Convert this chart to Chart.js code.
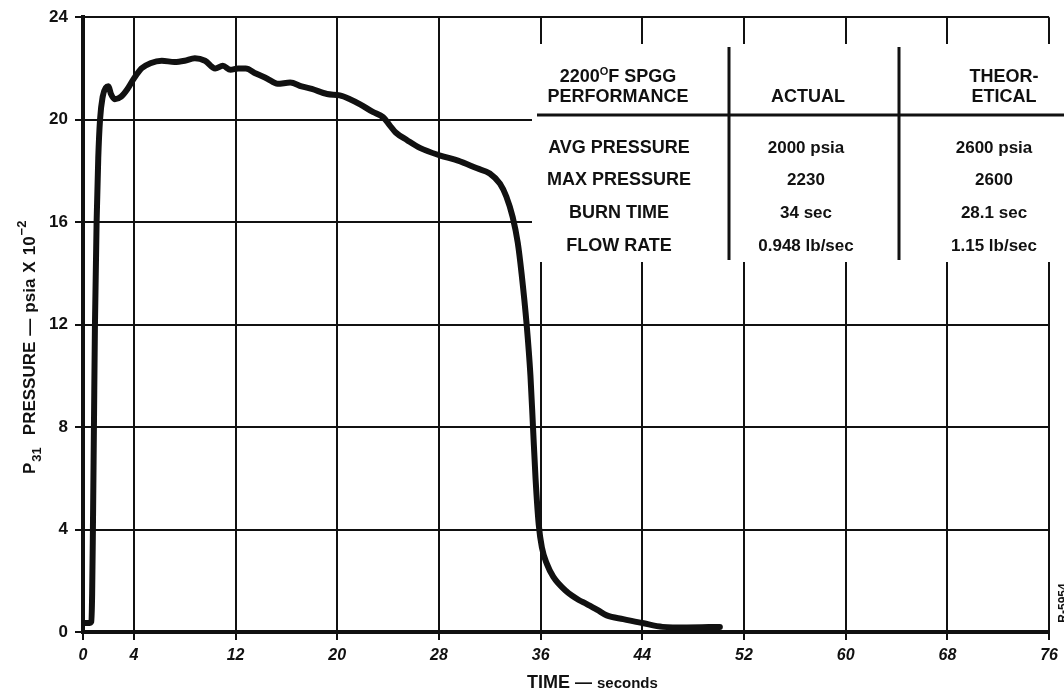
<!DOCTYPE html>
<html>
<head>
<meta charset="utf-8">
<script src="https://cdn.jsdelivr.net/npm/chart.js@4.4.1/dist/chart.umd.min.js"></script>
<style>
    html, body { margin: 0; padding: 0; background: #fff; }
    #wrap { width: 1064px; height: 695px; position: relative; }
</style>
</head>
<body>
<div id="wrap"><canvas id="pressure-chart"></canvas></div>
<script>
// P31 chamber pressure trace (psia x 10^-2) against time (s)
const timeSec = [0, 0.5, 0.65, 0.72, 0.78, 0.86, 0.94, 1.07, 1.2, 1.34, 1.55, 1.8, 2.0, 2.2, 2.5, 3.0, 3.5, 4.0, 4.6, 5.3,
    6.2, 7.2, 8.0, 8.8, 9.6, 10.4, 11.0, 11.6, 12.2, 12.8, 13.6, 14.5, 15.3, 16.3, 17.2, 18.0, 19.2, 20.2, 21.0, 21.8,
    22.8, 23.6, 24.1, 24.6, 25.5, 26.5, 28.1, 29.5, 31.0, 32.0, 32.8, 33.3, 33.8, 34.2, 34.5, 34.9, 35.2, 35.4, 35.6,
    35.85, 36.1, 36.5, 37.0, 38.0, 39.0, 39.6, 40.5, 41.2, 42.5, 44.0, 45.6, 47.5, 50.1];
const pressure = [0.35, 0.35, 0.4, 1.5, 4, 8, 12, 16, 18.5, 20, 20.9, 21.25, 21.3, 21.0, 20.8, 20.9, 21.2, 21.6, 22.0, 22.2,
    22.3, 22.25, 22.3, 22.4, 22.3, 22.0, 22.1, 21.95, 22.0, 22.0, 21.8, 21.6, 21.4, 21.45, 21.3, 21.2, 21.0, 20.95, 20.8, 20.6,
    20.3, 20.1, 19.8, 19.5, 19.2, 18.9, 18.6, 18.4, 18.1, 17.9, 17.5, 17.0, 16.2, 15.2, 14.0, 12.0, 10.0, 8.0, 6.0,
    4.2, 3.3, 2.65, 2.15, 1.6, 1.25, 1.1, 0.85, 0.65, 0.5, 0.35, 0.2, 0.18, 0.2];

const xTicks = [0, 4, 12, 20, 28, 36, 44, 52, 60, 68, 76];
const yTicks = [0, 4, 8, 12, 16, 20, 24];

// performance table
const headLeft = ['2200', 'PERFORMANCE'];
const headActual = 'ACTUAL';
const headTheo = ['THEOR-', 'ETICAL'];
const rowLabels = ['AVG PRESSURE', 'MAX PRESSURE', 'BURN TIME', 'FLOW RATE'];
const actualVals = ['2000 psia', '2230', '34 sec', '0.948 lb/sec'];
const theoVals = ['2600 psia', '2600', '28.1 sec', '1.15 lb/sec'];

const FAM = '"Liberation Sans", Arial, sans-serif';
const INK = '#111';

// draws a run of text pieces [{t, font, dy}] starting at x (or centred on x)
function drawRun(ctx, parts, x, y, center) {
    let w = 0;
    parts.forEach(p => { ctx.font = p.font; w += ctx.measureText(p.t).width + (p.gap || 0); });
    let cx = center ? x - w / 2 : x;
    parts.forEach(p => {
        ctx.font = p.font;
        ctx.fillText(p.t, cx, y + (p.dy || 0));
        cx += ctx.measureText(p.t).width + (p.gap || 0);
    });
}

const decorations = {
    id: 'decorations',
    beforeDatasetsDraw(chart) {
        const ctx = chart.ctx;
        ctx.save();
        ctx.fillStyle = '#fff';
        ctx.fillRect(532, 44, 540, 218);
        ctx.restore();
    },
    afterDraw(chart) {
        const ctx = chart.ctx;
        ctx.save();
        ctx.fillStyle = INK;
        ctx.strokeStyle = INK;
        ctx.textBaseline = 'alphabetic';
        ctx.textAlign = 'left';

        // table rules
        ctx.lineWidth = 3;
        ctx.beginPath();
        ctx.moveTo(537, 115); ctx.lineTo(1064, 115);
        ctx.moveTo(729, 47); ctx.lineTo(729, 260);
        ctx.moveTo(899, 47); ctx.lineTo(899, 260);
        ctx.stroke();

        const bold18 = 'bold 18px ' + FAM;
        const bold17 = 'bold 17px ' + FAM;
        const bold11 = 'bold 11px ' + FAM;

        // header
        drawRun(ctx, [
            { t: headLeft[0], font: bold18 },
            { t: 'O', font: bold11, dy: -7 },
            { t: 'F SPGG', font: bold18 }
        ], 618, 82, true);
        ctx.textAlign = 'center';
        ctx.font = bold18;
        ctx.fillText(headLeft[1], 618, 102);
        ctx.fillText(headActual, 808, 102);
        ctx.fillText(headTheo[0], 1004, 82);
        ctx.fillText(headTheo[1], 1004, 102);

        // rows
        const rowY = [153, 185, 218, 251];
        rowLabels.forEach((lbl, i) => {
            ctx.font = bold18;
            ctx.fillText(lbl, 619, rowY[i]);
            ctx.font = bold17;
            ctx.fillText(actualVals[i], 806, rowY[i]);
            ctx.fillText(theoVals[i], 994, rowY[i]);
        });

        // x axis title
        ctx.textAlign = 'left';
        drawRun(ctx, [
            { t: 'TIME', font: bold18, gap: 5 },
            { t: '\u2014', font: bold17, gap: 5 },
            { t: 'seconds', font: 'bold 15px ' + FAM }
        ], 527, 688, false);

        // y axis title, rotated
        ctx.save();
        ctx.translate(35, 474);
        ctx.rotate(-Math.PI / 2);
        drawRun(ctx, [
            { t: 'P', font: bold17, gap: 1 },
            { t: '31', font: 'bold 13px ' + FAM, dy: 6, gap: 12 },
            { t: 'PRESSURE', font: bold17, gap: 6 },
            { t: '\u2014', font: bold17, gap: 6 },
            { t: 'psia', font: bold17, gap: 6 },
            { t: 'X', font: bold17, gap: 6 },
            { t: '10', font: bold17, gap: 1 },
            { t: '\u22122', font: 'bold 13px ' + FAM, dy: -9 }
        ], 0, 0, false);
        ctx.restore();

        // drawing number at the right edge
        ctx.save();
        ctx.translate(1067, 603);
        ctx.rotate(-Math.PI / 2);
        ctx.textAlign = 'center';
        ctx.font = 'bold 12px ' + FAM;
        ctx.fillText('R-5954', 0, 0);
        ctx.restore();

        ctx.restore();
    }
};

const points = timeSec.map((t, i) => ({ x: t, y: pressure[i] }));

new Chart(document.getElementById('pressure-chart').getContext('2d'), {
    type: 'line',
    data: {
        datasets: [{
            data: points,
            borderColor: INK,
            borderWidth: 6,
            fill: false,
            tension: 0.4,
            cubicInterpolationMode: 'monotone',
            pointRadius: 0,
            borderCapStyle: 'round',
            borderJoinStyle: 'round'
        }]
    },
    options: {
        responsive: true,
        maintainAspectRatio: false,
        animation: false,
        devicePixelRatio: 1,
        layout: { padding: { top: 16, right: 14, left: 0, bottom: 0 } },
        plugins: {
            legend: { display: false },
            tooltip: { enabled: false }
        },
        scales: {
            x: {
                type: 'linear',
                min: 0,
                max: 76,
                afterBuildTicks: scale => { scale.ticks = xTicks.map(v => ({ value: v })); },
                afterFit: scale => { scale.height = 63; },
                grid: { color: INK, lineWidth: 2, tickLength: 8, tickWidth: 2, tickColor: INK },
                border: { display: true, color: INK, width: 4 },
                ticks: {
                    color: INK,
                    padding: 6,
                    maxRotation: 0,
                    autoSkip: false,
                    font: { family: FAM, size: 16, weight: 'bold', style: 'italic' }
                }
            },
            y: {
                min: 0,
                max: 24,
                afterBuildTicks: scale => { scale.ticks = yTicks.map(v => ({ value: v })); },
                afterFit: scale => { scale.width = 83; },
                grid: { color: INK, lineWidth: 2, tickLength: 8, tickWidth: 2, tickColor: INK },
                border: { display: true, color: INK, width: 4 },
                ticks: {
                    color: INK,
                    padding: 7,
                    autoSkip: false,
                    font: { family: FAM, size: 17, weight: 'bold' }
                }
            }
        }
    },
    plugins: [decorations]
});
</script>
</body>
</html>
